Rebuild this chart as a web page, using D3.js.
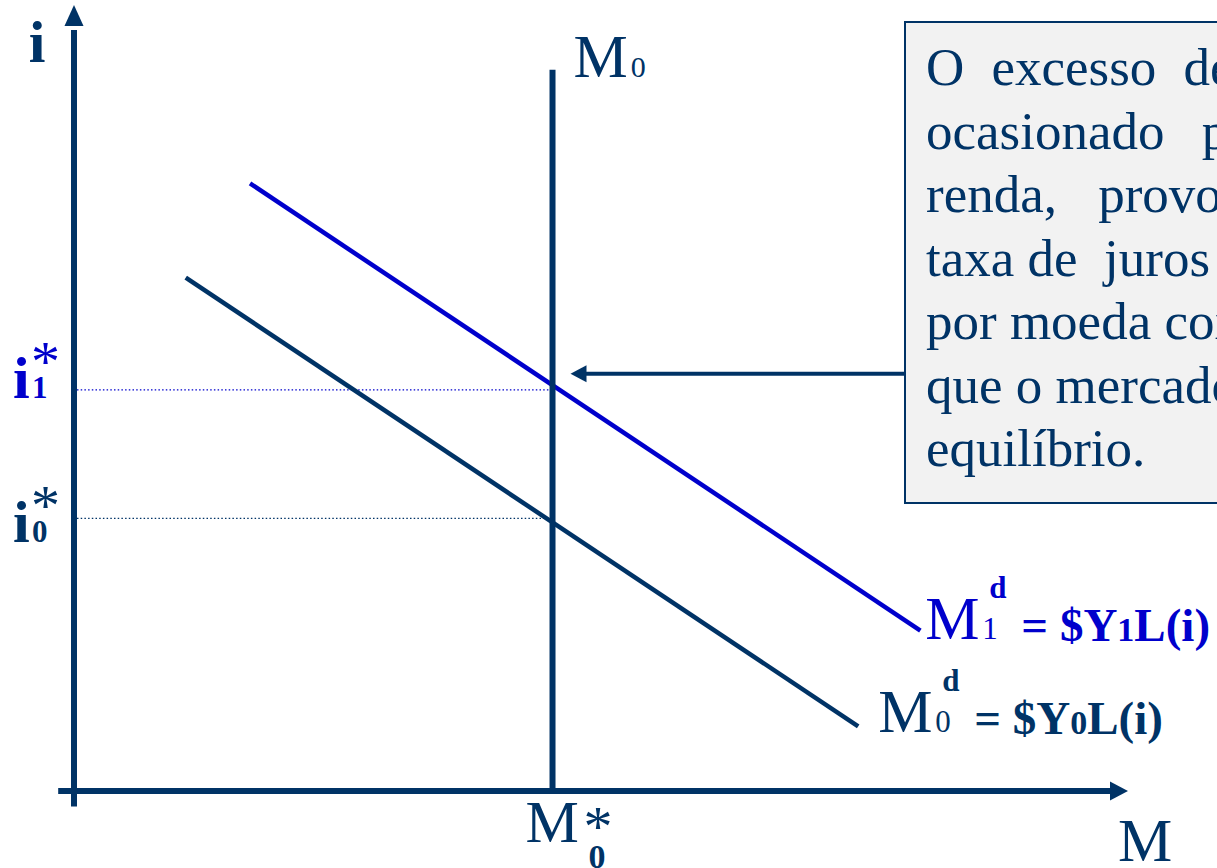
<!DOCTYPE html>
<html>
<head>
<meta charset="utf-8">
<script src="https://cdn.jsdelivr.net/npm/d3@7"></script>
<style>
  html, body { margin: 0; padding: 0; background: #fff; overflow: hidden; }
  svg { display: block; font-family: "Liberation Serif", "Times New Roman", serif; }
</style>
</head>
<body>
<svg width="1217" height="868"></svg>
<script>
// data (arbitrary units: money quantity M on x, interest rate i on y)
const mSupply = 45.4;          // M0 vertical supply
const mSupplyTop = 92.6;
const md0 = [[10.6, 65.9], [74.4, 8.3]];   // M0d = $Y0L(i)
const md1 = [[16.7, 78.0], [80.3, 20.6]];  // M1d = $Y1L(i)
const iStar0 = 35.0;
const iStar1 = 51.5;
const boxLines = [
  "O excesso de demanda",
  "ocasionado pelo aumento da",
  "renda, provoca elevação da",
  "taxa de  juros até que a demanda",
  "por moeda coincida com a oferta, e",
  "que o mercado monetário volte ao",
  "equilíbrio."
];

const navy = "#003366", blue = "#0000cc";
var svg = d3.select("svg");
var x = d3.scaleLinear().domain([0, 100]).range([74, 1128]);
var y = d3.scaleLinear().domain([0, 100]).range([791, 12]);

function arrowHead(tx, ty, dir, len, half, color) {
	// dir: "up", "right", "left"
	var p;
	if (dir == "up") p = [[tx, ty], [tx - half, ty + len], [tx + half, ty + len]];
	else if (dir == "right") p = [[tx, ty], [tx - len, ty - half], [tx - len, ty + half]];
	else p = [[tx, ty], [tx + len, ty - half], [tx + len, ty + half]];
	svg.append("path").attr("d", "M" + p.join("L") + "Z").attr("fill", color);
}

// dotted guide lines
[[iStar1, blue], [iStar0, navy]].forEach(function(d) {
	svg.append("line")
		.attr("x1", x(0) + 3).attr("x2", x(mSupply))
		.attr("y1", y(d[0])).attr("y2", y(d[0]))
		.attr("stroke", d[1]).attr("stroke-width", 1.3)
		.attr("stroke-dasharray", "1.5,2.2");
});

// demand curves
var line = d3.line().x(d => x(d[0])).y(d => y(d[1]));
svg.append("path").datum(md0).attr("d", line).attr("stroke", navy).attr("stroke-width", 4.5).attr("fill", "none");
svg.append("path").datum(md1).attr("d", line).attr("stroke", blue).attr("stroke-width", 4.5).attr("fill", "none");

// supply
svg.append("line")
	.attr("x1", x(mSupply)).attr("x2", x(mSupply))
	.attr("y1", y(0)).attr("y2", y(mSupplyTop))
	.attr("stroke", navy).attr("stroke-width", 6);

// axes
svg.append("line").attr("x1", x(0)).attr("x2", x(0)).attr("y1", y(-2)).attr("y2", y(100) + 18)
	.attr("stroke", navy).attr("stroke-width", 6);
arrowHead(x(0), y(100) - 7, "up", 21, 9.5, navy);
svg.append("line").attr("x1", x(-1.5)).attr("x2", x(100) - 15).attr("y1", y(0)).attr("y2", y(0))
	.attr("stroke", navy).attr("stroke-width", 6);
arrowHead(x(100), y(0), "right", 18, 9.5, navy);

// text box
svg.append("rect").attr("x", 905).attr("y", 22).attr("width", 330).attr("height", 481)
	.attr("fill", "#f2f2f2").attr("stroke", navy).attr("stroke-width", 2);
var spacing = [14, 24, 28, 0, 0, 0, 0];
svg.append("g").selectAll("text").data(boxLines).enter().append("text")
	.attr("x", 926).attr("y", (d, i) => 85 + i * 63.5)
	.attr("font-size", 53).attr("fill", navy)
	.attr("word-spacing", (d, i) => spacing[i])
	.style("white-space", "pre")
	.text(d => d);

// arrow from box to supply line
var ay = y(iStar1) - 16;
svg.append("line").attr("x1", 905).attr("x2", x(mSupply) + 30).attr("y1", ay).attr("y2", ay)
	.attr("stroke", navy).attr("stroke-width", 4);
arrowHead(x(mSupply) + 18, ay, "left", 16, 8.5, navy);

// axis labels
svg.append("text").attr("x", 37).attr("y", 62).attr("text-anchor", "middle")
	.attr("font-size", 60).attr("font-weight", "bold").attr("fill", navy).text("i");
svg.append("text").attr("x", 1145).attr("y", 861).attr("text-anchor", "middle")
	.attr("font-size", 61).attr("fill", navy).text("M");

// M0 supply label
var t = svg.append("text").attr("x", x(mSupply) + 21).attr("y", y(mSupplyTop) + 7).attr("fill", navy);
t.append("tspan").attr("font-size", 61).text("M");
t.append("tspan").attr("font-size", 30).attr("dx", 3).text("0");

// M0* label below axis
var mx = x(mSupply);
svg.append("text").attr("x", mx - 27).attr("y", 842).attr("font-size", 60).attr("fill", navy).text("M");
svg.append("text").attr("x", mx + 31).attr("y", 846).attr("font-size", 58).attr("fill", navy).text("*");
svg.append("text").attr("x", mx + 36).attr("y", 868).attr("font-size", 34).attr("font-weight", "bold").attr("fill", navy).text("0");

// i* labels
function iLabel(val, sub, color, off) {
	var by = y(val) + off;
	svg.append("text").attr("x", 13).attr("y", by).attr("font-size", 60).attr("font-weight", "bold").attr("fill", color).text("i");
	svg.append("text").attr("x", 32).attr("y", by).attr("font-size", 31).attr("font-weight", "bold").attr("fill", color).text(sub);
	svg.append("text").attr("x", 31).attr("y", by - 17).attr("font-size", 58).attr("fill", color).text("*");
}
iLabel(iStar1, "1", blue, 8);
iLabel(iStar0, "0", navy, 24);

// demand labels
function mdLabel(pt, sub, color, dx, dy) {
	var lx = x(pt[0]) + dx, ly = y(pt[1]) + dy;
	svg.append("text").attr("x", lx).attr("y", ly).attr("font-size", 61).attr("fill", color).text("M");
	svg.append("text").attr("x", lx + 57).attr("y", ly).attr("font-size", 31).attr("fill", color).text(sub);
	svg.append("text").attr("x", lx + 64).attr("y", ly - 41).attr("font-size", 31).attr("font-weight", "bold").attr("fill", color).text("d");
	var e = svg.append("text").attr("x", lx + 96).attr("y", ly + 2).attr("font-size", 47).attr("font-weight", "bold").attr("fill", color);
	e.append("tspan").text("= $Y");
	e.append("tspan").attr("font-size", 34).text(sub);
	e.append("tspan").text("L(i)");
}
mdLabel(md1[1], "1", blue, 5, 8);
mdLabel(md0[1], "0", navy, 20, 6);
</script>
</body>
</html>
